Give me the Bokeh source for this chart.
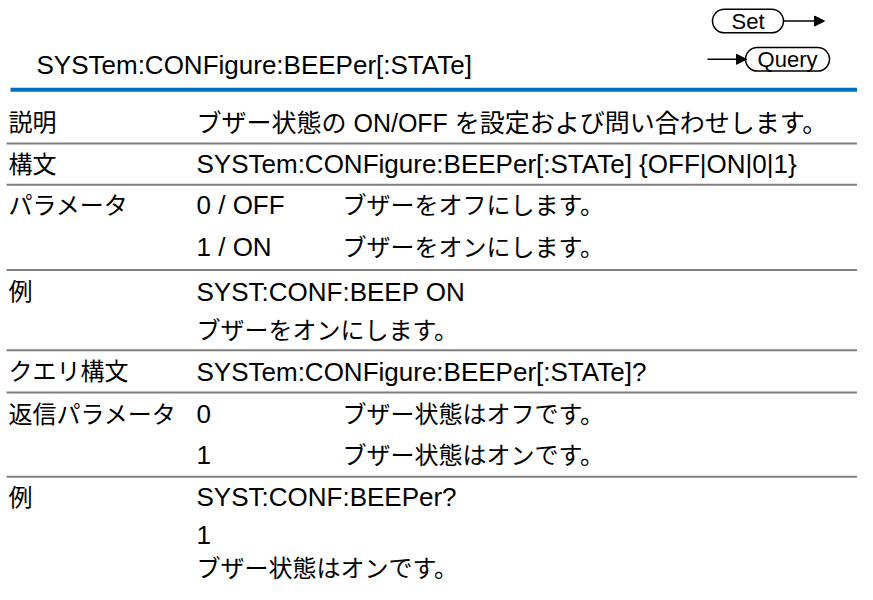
from bokeh.plotting import figure
from bokeh.models import Range1d, Arrow, NormalHead
from bokeh.core.properties import value
from bokeh.embed import file_html
from bokeh.resources import INLINE

# ---- content ----
title = "SYSTem:CONFigure:BEEPer[:STATe]"
set_label = "Set"
query_label = "Query"
row_labels = ["説明", "構文", "パラメータ", "例", "クエリ構文", "返信パラメータ", "例"]
row_col2 = [
    ["ブザー状態の ON/OFF を設定および問い合わせします。"],
    ["SYSTem:CONFigure:BEEPer[:STATe] {OFF|ON|0|1}"],
    ["0 / OFF", "1 / ON"],
    ["SYST:CONF:BEEP ON", "ブザーをオンにします。"],
    ["SYSTem:CONFigure:BEEPer[:STATe]?"],
    ["0", "1"],
    ["SYST:CONF:BEEPer?", "1", "ブザー状態はオンです。"],
]
row_col3 = [
    [""],
    [""],
    ["ブザーをオフにします。", "ブザーをオンにします。"],
    ["", ""],
    [""],
    ["ブザー状態はオフです。", "ブザー状態はオンです。"],
    ["", "", ""],
]

# ---- layout (reference pixel coordinates) ----
line_y = [[127], [169], [211, 254], [299, 339], [381], [424, 466], [509, 547, 582]]
sep_y = [148, 190, 277, 359, 402, 488]
x_label, x_col2, x_col3 = 8, 196, 342
FONT = value("'Liberation Sans', 'Noto Sans CJK JP'")


def size_for(s):
    has_cjk = any(ord(ch) > 0x2000 for ch in s)
    has_latin = any(ch.isascii() and ch.isalpha() for ch in s)
    if has_cjk and has_latin:
        return "25px"
    if has_cjk:
        return "24px"
    return "26px"


p = figure(width=857, height=584, x_range=Range1d(0, 857), y_range=Range1d(598, 2),
           output_backend="svg", toolbar_location=None, min_border=0)
p.axis.visible = False
p.grid.visible = False
p.outline_line_color = None
p.background_fill_color = "white"
p.border_fill_color = "white"

# separators
p.segment(x0=[6] * len(sep_y), y0=sep_y, x1=[873] * len(sep_y), y1=sep_y,
          line_color="#808080", line_width=2)

# title + blue rule
p.text(x=[36], y=[68], text=[title], text_font=FONT, text_font_size=size_for(title),
       text_baseline="middle", text_color="#000000")
p.segment(x0=[10], y0=[93], x1=[872], y1=[93], line_color="#0070C0", line_width=4)

# Set / Query icons
p.quad(left=[712], right=[783], top=[11], bottom=[35], fill_color="white",
       line_color="black", line_width=1.5, border_radius=12)
p.quad(left=[745], right=[829], top=[50], bottom=[74], fill_color="white",
       line_color="black", line_width=1.5, border_radius=12)
p.text(x=[747.5], y=[23], text=[set_label], text_font=value("Liberation Sans"),
       text_font_size="22px", text_align="center", text_baseline="middle")
p.text(x=[787], y=[62], text=[query_label], text_font=value("Liberation Sans"),
       text_font_size="22px", text_align="center", text_baseline="middle")
p.add_layout(Arrow(end=NormalHead(size=10, fill_color="black", line_color="black"),
                   x_start=783, y_start=23, x_end=824, y_end=23, line_width=1.5))
p.add_layout(Arrow(end=NormalHead(size=10, fill_color="black", line_color="black"),
                   x_start=707, y_start=62, x_end=746, y_end=62, line_width=1.5))

# table rows
xs, ys_, ts, fs = [], [], [], []
for lab, c2, c3, ys in zip(row_labels, row_col2, row_col3, line_y):
    xs.append(x_label); ys_.append(ys[0]); ts.append(lab); fs.append(size_for(lab))
    for a, b, y in zip(c2, c3, ys):
        xs.append(x_col2); ys_.append(y); ts.append(a); fs.append(size_for(a))
        if b:
            xs.append(x_col3); ys_.append(y); ts.append(b); fs.append(size_for(b))

p.text(x=xs, y=ys_, text=ts, text_font=FONT, text_font_size=fs,
       text_baseline="middle", text_color="#000000")

open("out.html", "w").write(file_html(p, INLINE))
